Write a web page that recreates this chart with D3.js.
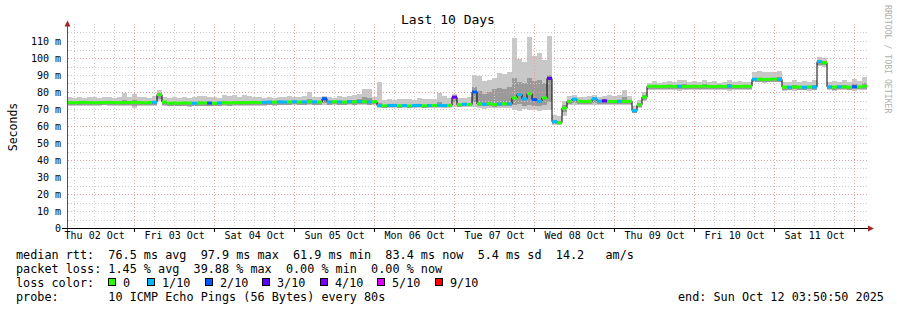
<!DOCTYPE html>
<html><head><meta charset="utf-8">
<script src="https://cdn.jsdelivr.net/npm/d3@7"></script>
<style>
body{margin:0;background:#fff}
svg{display:block}
text{font-family:"DejaVu Sans Mono",monospace;fill:#000}
.pre{white-space:pre}
</style></head><body>
<svg id="c" width="897" height="310"></svg>
<script>
// ---------------- data ----------------
const startTime = "2025-10-02T03:50:50Z";
const endTime   = "2025-10-12T03:50:50Z";
const stepMinutes = 90;

// median rtt (ms), one value per 90 min
const median = [
73.8,73.7,73.8,73.9,73.8,73.7,73.8,73.8,73.9,73.8,
73.7,73.8,73.8,73.9,73.8,73.7,73.8,74.0,78.5,74.1,
73.4,73.5,73.4,73.6,73.5,73.4,73.5,73.6,73.5,73.4,
73.6,73.7,73.6,73.7,73.8,73.7,73.8,73.9,73.8,74.0,
74.1,74.0,74.2,74.1,74.2,74.3,74.1,74.2,74.3,74.2,
74.1,76.0,74.2,74.3,74.2,74.1,74.3,74.2,74.4,74.3,
74.2,74.3,72.0,71.9,72.0,72.1,71.9,72.0,71.8,72.0,
72.1,71.9,72.0,72.1,72.2,72.0,72.1,77.0,72.5,72.8,
72.6,80.0,73.0,72.8,73.2,72.6,72.9,73.1,73.0,76.5,
78.5,76.0,79.0,75.5,74.5,76.5,88.0,62.5,61.9,70.5,
74.5,75.8,74.6,74.4,74.5,76.0,74.6,74.8,74.5,74.4,
74.6,74.5,74.5,69.0,72.5,77.0,83.3,83.4,83.2,83.3,
83.5,83.3,83.4,83.2,83.3,83.4,83.3,83.5,83.3,83.2,
83.4,83.3,83.5,83.3,83.2,83.4,83.3,87.5,87.6,87.4,
87.5,87.6,87.4,82.9,82.8,83.0,82.9,82.8,83.0,82.9,
97.9,97.2,83.0,82.9,83.1,83.0,82.9,83.1,83.0,83.4];

// lost pings out of 10
const loss = [
0,0,0,0,0,0,0,0,0,0,
0,0,0,0,0,0,0,1,0,0,
0,0,0,0,0,1,0,0,2,0,
1,0,0,0,0,0,0,0,0,1,
1,0,1,1,0,1,0,1,0,1,
0,2,1,0,1,0,1,0,1,0,
1,0,1,0,1,1,0,1,0,1,
1,0,1,0,1,1,0,3,0,1,
0,2,0,1,0,0,1,0,1,0,
1,1,0,2,1,0,3,1,0,0,
0,1,0,0,0,1,1,3,0,0,
1,0,0,1,0,0,0,0,0,0,
0,0,1,0,0,0,0,0,0,0,
0,0,1,0,0,0,0,1,0,0,
0,0,1,0,1,0,0,1,0,1,
1,0,1,0,1,0,0,2,0,0];

// smoke: outer range (fastest / slowest ping)
const pMax = [
76.8,76.5,77.0,76.6,77.2,76.8,76.5,77.3,77.0,76.6,
77.0,79.6,76.9,78.6,76.8,77.2,76.6,77.5,81.0,77.2,
76.4,76.8,76.6,77.0,76.5,76.9,77.8,77.6,76.8,77.0,
76.6,78.2,77.5,78.0,77.2,78.2,77.4,76.8,77.3,76.7,
77.0,76.6,77.3,76.9,77.5,77.0,76.8,77.6,80.0,77.2,
76.9,77.8,77.0,76.7,77.4,77.0,77.8,78.5,79.0,82.0,
81.5,77.2,86.0,75.5,75.8,75.4,76.0,75.6,75.9,75.5,
76.2,75.7,76.0,76.0,79.4,77.8,76.4,79.0,76.5,76.2,
77.0,90.0,89.5,86.5,87.0,88.5,91.0,90.5,91.5,112.0,
99.5,97.5,112.5,101.0,103.0,99.0,113.0,66.5,66.0,75.0,
77.5,78.2,77.3,77.0,77.6,78.0,77.2,77.8,78.2,77.4,
78.0,81.0,77.5,71.5,75.2,80.0,85.5,86.2,85.4,85.8,
86.5,85.6,86.8,87.0,85.9,86.4,85.7,86.9,85.8,86.2,
85.5,86.0,87.0,85.8,86.3,85.6,86.0,91.8,92.2,91.6,
92.0,91.5,92.3,86.0,85.6,86.8,85.9,86.3,86.0,87.0,
100.5,100.2,85.8,86.3,85.6,86.8,86.0,87.5,86.2,88.8];
const pMin = [
71.9,72.0,71.8,71.7,72.0,71.9,71.8,72.1,71.9,71.7,
71.8,71.5,72.0,70.5,71.8,71.9,72.0,71.8,74.5,71.5,
71.6,71.5,71.7,71.6,71.4,71.6,71.5,71.7,71.5,71.6,
71.7,71.6,71.8,71.7,71.8,71.7,71.9,71.8,71.9,72.0,
72.1,72.0,72.2,72.1,72.2,72.3,72.1,72.2,72.3,72.2,
72.1,72.3,72.2,72.3,72.2,72.1,72.3,72.2,72.4,72.3,
72.2,72.3,70.5,70.4,70.6,70.5,70.3,70.5,70.4,70.6,
70.5,70.4,70.6,70.5,70.7,70.5,70.6,71.0,71.0,71.2,
71.0,71.0,70.5,70.2,70.6,70.3,70.5,70.4,70.6,69.5,
69.0,69.8,69.2,69.6,69.0,69.5,69.2,60.8,60.5,66.0,
72.3,72.2,72.4,72.2,72.3,72.1,72.3,72.2,72.4,72.3,
72.2,72.3,72.2,67.5,70.5,74.5,81.0,81.2,80.9,81.1,
81.0,81.2,80.8,81.0,81.1,81.0,80.9,81.2,81.0,81.1,
80.9,81.0,80.8,81.1,81.0,81.2,81.0,85.6,85.8,85.5,
85.7,85.6,85.8,80.8,81.0,80.7,80.9,81.0,80.8,81.0,
95.5,95.0,81.0,80.8,81.1,80.9,81.0,80.8,81.1,81.2];

// smoke: inner range
const pHi = [
74.5,74.4,74.6,74.6,74.5,74.4,74.5,74.6,74.6,74.5,
74.4,75.2,74.5,75.4,74.5,74.4,74.5,74.8,79.5,75.0,
74.1,74.2,74.1,74.3,74.2,74.1,74.5,74.4,74.2,74.1,
74.3,74.6,74.3,74.5,74.5,74.6,74.5,74.6,74.5,74.7,
74.8,74.7,74.9,74.8,74.9,75.0,74.8,74.9,75.8,74.9,
74.8,76.8,74.9,75.0,74.9,74.8,75.1,75.4,75.8,77.0,
76.5,75.0,73.5,72.6,72.7,72.8,72.6,72.7,72.5,72.7,
72.8,72.6,72.7,72.8,74.0,73.2,72.8,77.8,73.2,73.5,
73.3,83.0,80.5,79.0,80.0,81.5,82.5,82.0,83.0,88.0,
86.0,85.0,88.5,86.5,87.0,85.5,90.0,63.5,63.0,72.5,
75.2,76.6,75.3,75.1,75.2,76.8,75.3,75.6,75.4,75.1,
75.4,77.0,75.2,69.8,73.3,78.0,84.0,84.1,83.9,84.0,
84.3,84.0,84.4,84.6,84.0,84.1,84.0,84.5,84.0,83.9,
84.1,84.0,84.6,84.0,83.9,84.1,84.0,88.3,88.5,88.1,
88.4,88.3,88.6,83.6,83.5,83.9,83.6,83.6,83.8,84.0,
98.4,98.0,83.7,83.8,83.8,84.3,83.6,84.6,83.8,85.0];
const pLo = [
72.2,72.1,72.2,72.3,72.2,72.1,72.2,72.2,72.3,72.2,
72.1,72.2,72.2,71.8,72.2,72.1,72.2,72.4,75.8,72.5,
71.8,71.9,71.8,72.0,71.9,71.8,71.9,72.0,71.9,71.8,
72.0,72.1,72.0,72.1,72.2,72.1,72.2,72.3,72.2,72.4,
72.5,72.4,72.6,72.5,72.6,72.7,72.5,72.6,72.7,72.6,
72.5,73.8,72.6,72.7,72.6,72.5,72.7,72.6,72.8,72.7,
72.6,72.7,70.9,70.8,70.9,71.0,70.8,70.9,70.7,70.9,
71.0,70.8,70.9,71.0,71.1,70.9,71.0,74.0,71.4,71.7,
71.5,74.0,71.8,71.6,72.0,71.4,71.7,71.9,71.8,72.5,
73.0,72.0,72.5,72.0,71.5,72.5,74.0,61.3,61.0,68.0,
72.9,73.6,73.0,72.8,72.9,73.8,73.0,73.1,72.9,72.8,
73.0,72.9,72.9,67.8,71.2,75.2,81.8,81.9,81.7,81.8,
82.0,81.8,81.9,81.7,81.8,81.9,81.8,82.0,81.8,81.7,
81.9,81.8,82.0,81.8,81.7,81.9,81.8,86.0,86.1,85.9,
86.0,86.1,85.9,81.4,81.3,81.5,81.4,81.3,81.5,81.4,
96.0,95.7,81.5,81.4,81.6,81.5,81.4,81.6,81.5,81.9];

const yTickValues = [0,10,20,30,40,50,60,70,80,90,100,110];
const lossKeys   = [0,1,2,3,4,5,9];
const lossColors = ["#26ff00","#00b8ff","#0059ff","#5e00ff","#7e00ff","#dd00ff","#ff0000"];
const lossLabels = ["0","1/10","2/10","3/10","4/10","5/10","9/10"];

const titleText = "Last 10 Days";
const yTitle = "Seconds";
const watermark = "RRDTOOL / TOBI OETIKER";
const legendLine1 = "median rtt:  76.5 ms avg  97.9 ms max  61.9 ms min  83.4 ms now  5.4 ms sd  14.2   am/s";
const legendLine2 = "packet loss: 1.45 % avg  39.88 % max  0.00 % min  0.00 % now";
const legendLine3 = "loss color:";
const legendLine4 = "probe:       10 ICMP Echo Pings (56 Bytes) every 80s";
const endText = "end: Sun Oct 12 03:50:50 2025";

// ---------------- drawing ----------------
const svg = d3.select("#c");
const t0 = new Date(startTime), t1 = new Date(endTime);
const x = d3.scaleUtc().domain([t0, t1]).range([67, 867]);
const y = d3.scaleLinear().domain([0, 120]).range([228, 24]);
const times = d3.range(median.length + 1).map(i => new Date(t0.getTime() + i * stepMinutes * 60000));
const lossColor = d3.scaleOrdinal().domain(lossKeys).range(lossColors);
const px = v => Math.round(v);

// smoke
const smoke = svg.append("g").attr("shape-rendering", "crispEdges");
smoke.selectAll("rect.o").data(median).join("rect").attr("class","o")
  .attr("x", (d,i) => px(x(times[i]))).attr("width", (d,i) => px(x(times[i+1])) - px(x(times[i])))
  .attr("y", (d,i) => px(y(pMax[i]))).attr("height", (d,i) => Math.max(1, px(y(pMin[i])) - px(y(pMax[i]))))
  .attr("fill", "#c8c8c8");
smoke.selectAll("rect.n").data(median).join("rect").attr("class","n")
  .attr("x", (d,i) => px(x(times[i]))).attr("width", (d,i) => px(x(times[i+1])) - px(x(times[i])))
  .attr("y", (d,i) => px(y(pHi[i]))).attr("height", (d,i) => Math.max(1, px(y(pLo[i])) - px(y(pHi[i]))))
  .attr("fill", "#9a9a9a");

// grid
const grid = svg.append("g").attr("shape-rendering", "crispEdges").attr("stroke-dasharray", "1,2");
const hMinor = d3.range(5, 120, 5).filter(v => v % 20 !== 0);
const hMajor = d3.range(20, 120, 20);
grid.selectAll("line.hm").data(hMinor).join("line")
  .attr("x1", 68).attr("x2", 868).attr("y1", v => px(y(v)) + 0.5).attr("y2", v => px(y(v)) + 0.5)
  .attr("stroke", "#cccccc");
const sixH = d3.utcHour.every(6).range(t0, t1).filter(d => d.getUTCHours() !== 0);
const days = d3.utcDay.range(t0, t1);
grid.selectAll("line.vm").data(sixH).join("line")
  .attr("x1", d => px(x(d)) + 0.5).attr("x2", d => px(x(d)) + 0.5).attr("y1", 24).attr("y2", 228)
  .attr("stroke", "#cccccc");
grid.selectAll("line.hM").data(hMajor).join("line")
  .attr("x1", 68).attr("x2", 868).attr("y1", v => px(y(v)) + 0.5).attr("y2", v => px(y(v)) + 0.5)
  .attr("stroke", "#e6a0a0");
grid.selectAll("line.vM").data(days).join("line")
  .attr("x1", d => px(x(d)) + 0.5).attr("x2", d => px(x(d)) + 0.5).attr("y1", 24).attr("y2", 228)
  .attr("stroke", "#e6a0a0");

// median black step line
const linePts = median.map((v,i) => [x(times[i]), y(v)]);
linePts.push([x(times[median.length]), y(median[median.length-1])]);
svg.append("path").attr("d", d3.line().curve(d3.curveStepAfter)(linePts))
  .attr("fill", "none").attr("stroke", "#000").attr("stroke-width", 1);

// loss-coloured median segments
svg.append("g").selectAll("line").data(median).join("line")
  .attr("x1", (d,i) => x(times[i])).attr("x2", (d,i) => x(times[i+1]))
  .attr("y1", d => y(d)).attr("y2", d => y(d))
  .attr("stroke", (d,i) => lossColor(loss[i])).attr("stroke-width", 3);

// axes
const axes = svg.append("g").attr("shape-rendering", "crispEdges");
axes.append("line").attr("x1", 67.5).attr("x2", 67.5).attr("y1", 26).attr("y2", 231).attr("stroke", "#555");
axes.append("line").attr("x1", 62).attr("x2", 869).attr("y1", 228.5).attr("y2", 228.5).attr("stroke", "#000");
axes.selectAll("line.t").data(days).join("line").attr("class","t")
  .attr("x1", d => px(x(d)) + 0.5).attr("x2", d => px(x(d)) + 0.5).attr("y1", 228).attr("y2", 232).attr("stroke", "#000");
svg.append("path").attr("d", "M64.5,26.5L67.5,20.5L70.5,26.5Z").attr("fill", "#a02828");
svg.append("path").attr("d", "M868,225.5L874,228.5L868,231.5Z").attr("fill", "#a02828");

// y labels
const yAxis = svg.append("g").attr("transform", "translate(61,0)")
  .call(d3.axisLeft(y).tickValues(yTickValues).tickSize(0).tickPadding(0)
        .tickFormat(v => v === 0 ? "0" : v + " m"));
yAxis.select(".domain").remove();
yAxis.selectAll("text").style("font-family", '"DejaVu Sans Mono",monospace').style("font-size", "10px").attr("fill", "#000");

// x labels at noon
const noons = d3.utcHour.every(12).range(t0, t1).filter(d => d.getUTCHours() === 12);
const xAxis = svg.append("g").attr("transform", "translate(0,232)")
  .call(d3.axisBottom(x).tickValues(noons).tickSize(0).tickPadding(0).tickFormat(d3.utcFormat("%a %d %b")));
xAxis.select(".domain").remove();
xAxis.selectAll("text").style("font-family", '"DejaVu Sans Mono",monospace').style("font-size", "10px").attr("fill", "#000");

// titles
svg.append("text").attr("x", 448).attr("y", 24).attr("text-anchor", "middle").style("font-size", "13px").text(titleText);
svg.append("text").attr("transform", "translate(16.5,127) rotate(-90)").attr("text-anchor", "middle")
  .style("font-size", "11.5px").text(yTitle);
svg.append("text").attr("transform", "translate(884.5,5) rotate(90)").style("font-size", "8.2px")
  .style("fill", "#b0b0b0").text(watermark);

// legend
const legend = svg.append("g").style("font-size", "11.8px");
const addLine = (xx, yy, s) => legend.append("text").attr("class", "pre").attr("xml:space", "preserve")
  .attr("x", xx).attr("y", yy).text(s);
addLine(16, 258.5, legendLine1);
addLine(16, 272.5, legendLine2);
addLine(16, 286.5, legendLine3);
addLine(16, 300.5, legendLine4);
addLine(678, 300.5, endText);
const boxX = lossLabels.map((l,k) => 108 + (k > 0 ? 39 + (k-1) * 57.6 : 0));
const items = legend.selectAll("g.item").data(lossLabels).join("g").attr("class","item")
  .attr("transform", (d,k) => `translate(${Math.round(boxX[k])},0)`);
items.append("rect").attr("x", 0.5).attr("y", 278.5).attr("width", 7).attr("height", 7)
  .attr("fill", (d,k) => lossColors[k]).attr("stroke", "#000").attr("stroke-width", 1).attr("shape-rendering","crispEdges");
items.append("text").attr("x", 15).attr("y", 286.5).text(d => d);
</script>
</body></html>
